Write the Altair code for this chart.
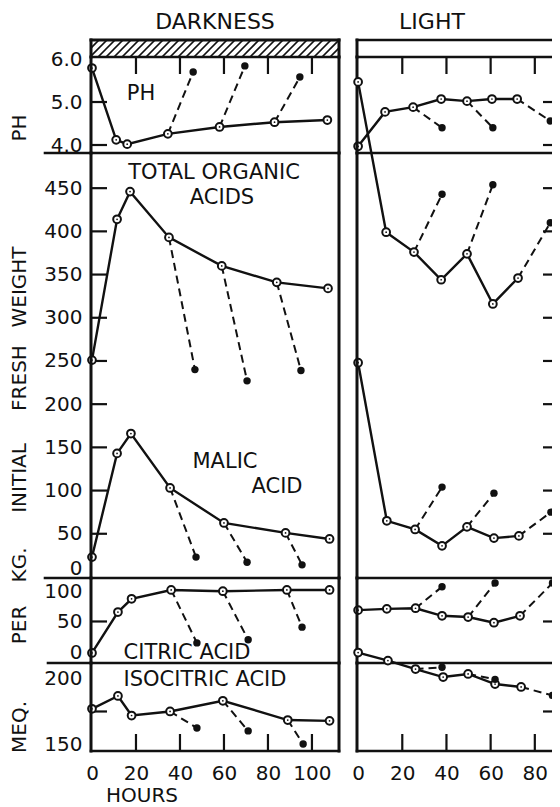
import altair as alt
import pandas as pd

FONT = "DejaVu Sans"
BLACK = "#111111"

# ---------------- DARKNESS (left) ----------------
d_ph_h = [0, 11, 16, 34.5, 58, 83, 107]
d_ph_v = [5.79, 4.12, 4.02, 4.26, 4.42, 4.53, 4.58]
d_ph_end_h = [46, 69.5, 94.5]
d_ph_end_v = [5.70, 5.84, 5.58]

d_tot_h = [0, 11.4, 17.3, 35, 59, 84, 107.3]
d_tot_v = [251, 414, 446, 393, 360, 341, 334]
d_tot_end_h = [46.8, 70.5, 95]
d_tot_end_v = [240, 227, 239]

d_mal_h = [0, 11.4, 17.7, 35.5, 60, 88, 108]
d_mal_v = [23, 143, 166, 103, 62.5, 51, 44]
d_mal_end_h = [47.3, 70.5, 95.5]
d_mal_end_v = [23, 17, 14]

d_cit_h = [0, 11.8, 18, 36, 59.5, 88.6, 108]
d_cit_v = [0, 65, 86, 100, 98, 100, 100]
d_cit_end_h = [47.7, 71, 95.5]
d_cit_end_v = [16, 21, 41]

d_iso_h = [0, 11.8, 18, 35.5, 59.5, 89, 108]
d_iso_v = [177, 186.6, 172, 175, 183, 168.6, 168]
d_iso_end_h = [47.7, 71, 96]
d_iso_end_v = [162.7, 160.5, 150.7]

d_from = [3, 4, 5]   # solid points where the dashed branches start

# ---------------- LIGHT (right) ----------------
l_ph_h = [0, 12.2, 24.9, 37.6, 49.3, 60.6, 72]
l_ph_v = [3.97, 4.77, 4.88, 5.07, 5.02, 5.07, 5.07]
l_ph_end_h = [38, 61, 87]
l_ph_end_v = [4.40, 4.40, 4.56]

l_tot_h = [0, 12.7, 25.3, 37.6, 49.3, 61, 72.4]
l_tot_v = [573, 399, 376, 344, 374, 316, 346]
l_tot_end_h = [38, 61, 87]
l_tot_end_v = [443, 454, 410]

l_mal_h = [0, 13, 25.8, 38, 49.3, 61.5, 72.8]
l_mal_v = [248, 65, 55, 36, 58, 45, 47.5]
l_mal_end_h = [38, 61.5, 87.3]
l_mal_end_v = [104, 97, 75]

l_cit_h = [0, 13, 26, 38, 49.8, 61.5, 73.3]
l_cit_v = [68, 70, 71, 59, 57, 48, 59]
l_cit_end_h = [38, 62, 88]
l_cit_end_v = [105, 111, 111]

l_iso_h = [0, 13.5, 26, 38.5, 49.8, 62, 73.8]
l_iso_v = [219, 213, 206.7, 200.7, 203, 195.5, 193.3]
l_iso_end_h = [38, 62, 88]
l_iso_end_v = [208, 199, 187]

l_from = [2, 4, 6]

# tick values / labels
ph_labels = [4, 5, 6]
ph_ticks = [4, 5]
org_labels = [0, 50, 100, 150, 200, 250, 300, 350, 400, 450]
org_ticks = [50, 100, 150, 200, 250, 300, 350, 400, 450]
cit_labels = [0, 50, 100]
cit_ticks = [50]
iso_labels = [150, 200]
iso_ticks = [175]
hour_labels_left = [0, 20, 40, 60, 80, 100]
hour_labels_right = [0, 20, 40, 60, 80]
hour_ticks_left = [20, 40, 60, 80, 100]
hour_ticks_right = [20, 40, 60, 80]

# ---------------- geometry ----------------
WL, WR = 248, 203
HH, HPH, HORG, HCIT, HISO = 17, 96, 425, 85, 88
PAD_L, PAD_T = 83, 32
SVG_W, SVG_H = 544, 800

xs_left = alt.Scale(domain=[-0.45, 112.3], nice=False, zero=False)
xs_right = alt.Scale(domain=[-0.5, 91.4], nice=False, zero=False)
ys_ph = alt.Scale(domain=[3.814, 6.047], nice=False, zero=False)
ys_org = alt.Scale(domain=[-1.2, 490.7], nice=False, zero=False)
ys_cit = alt.Scale(domain=[-15.9, 119], nice=False, zero=False)
ys_iso = alt.Scale(domain=[145.5, 211.2], nice=False, zero=False)

ONE = pd.DataFrame({"k": [0]})


def yaxis_left(values, fmt=None, label_offset=None):
    kw = dict(values=values, orient="left", ticks=False, tickSize=0, domain=False, grid=False,
              labelFont=FONT, labelFontSize=20, labelColor=BLACK, labelPadding=9,
              labelOverlap=False, labelFlush=False, title="")
    if fmt:
        kw["format"] = fmt
    if label_offset is not None:
        kw["labelOffset"] = label_offset
    return alt.Axis(**kw)


def xaxis_bottom(values):
    return alt.Axis(values=values, orient="bottom", ticks=False, tickSize=0, domain=False,
                    grid=False, labelFont=FONT, labelFontSize=20, labelColor=BLACK,
                    labelPadding=12, labelOverlap=False, labelFlush=False, title="")


def series_layers(h, v, frm, eh, ev, xs, ys, xaxis, yaxis):
    main = pd.DataFrame({"h": h, "v": v})
    rows = []
    for k, (i, a, b) in enumerate(zip(frm, eh, ev)):
        rows.append({"h": h[i], "v": v[i], "seg": k})
        rows.append({"h": a, "v": b, "seg": k})
    br = pd.DataFrame(rows)
    ends = pd.DataFrame({"h": eh, "v": ev})

    def enc(c):
        return c.encode(x=alt.X("h:Q", scale=xs, axis=xaxis),
                        y=alt.Y("v:Q", scale=ys, axis=yaxis))

    dashed = enc(alt.Chart(br).mark_line(color=BLACK, strokeWidth=2, strokeDash=[8, 5])).encode(detail="seg:N")
    solid = enc(alt.Chart(main).mark_line(color=BLACK, strokeWidth=2.4))
    opens = enc(alt.Chart(main).mark_point(shape="circle", filled=True, fill="white", stroke=BLACK,
                                           strokeWidth=2, size=60, opacity=1))
    dots = enc(alt.Chart(main).mark_point(shape="circle", filled=True, color=BLACK, size=3, opacity=1))
    fills = enc(alt.Chart(ends).mark_point(shape="circle", filled=True, color=BLACK, size=55, opacity=1))
    return [dashed, solid], [opens, dots, fills]


def rule(x, y, x2=None, y2=None, w=2.6):
    e = {"x": alt.value(x), "y": alt.value(y)}
    if x2 is not None:
        e["x2"] = alt.value(x2)
    if y2 is not None:
        e["y2"] = alt.value(y2)
    return alt.Chart(ONE).mark_rule(color=BLACK, strokeWidth=w, strokeCap="square").encode(**e)


def label(s, x, y, size=21, angle=0, align="center"):
    kw = dict(text=s, font=FONT, fontSize=size, color=BLACK, align=align, baseline="middle")
    if angle:
        kw["angle"] = angle
    return alt.Chart(ONE).mark_text(**kw).encode(x=alt.value(x), y=alt.value(y))


def yticks(values, ys, xc, length, axis):
    # horizontal tick marks placed through the panel's own y scale
    df = pd.DataFrame({"v": values})
    return alt.Chart(df).mark_tick(orient="horizontal", size=length, thickness=2.2,
                                   color=BLACK, opacity=1).encode(
        x=alt.value(xc), y=alt.Y("v:Q", scale=ys, axis=axis))


def xticks(values, xs, yc, length, axis):
    # vertical tick marks placed through the panel's own x scale
    df = pd.DataFrame({"h": values})
    return alt.Chart(df).mark_tick(orient="vertical", size=length, thickness=2.2,
                                   color=BLACK, opacity=1).encode(
        x=alt.X("h:Q", scale=xs, axis=axis), y=alt.value(yc))


def panel(series, xs, ys, W, H, xaxis, yaxis, ticks, decor):
    back, front = [], []
    for s in series:
        b, f = series_layers(*s, xs, ys, xaxis, yaxis)
        back += b
        front += f
    return alt.layer(*back, *ticks, *front, *decor).properties(width=W, height=H)


# ---------------- headers ----------------
hatch_start = list(range(-HH, WL + 8, 8))
hatch_df = pd.DataFrame({"x0": hatch_start, "x1": [s + HH for s in hatch_start],
                         "y0": [HH] * len(hatch_start), "y1": [0] * len(hatch_start)})
hatch = alt.Chart(hatch_df).mark_rule(color=BLACK, strokeWidth=1.7, clip=True).encode(
    x=alt.X("x0:Q", scale=None), x2="x1:Q", y=alt.Y("y0:Q", scale=None), y2="y1:Q")

head_left = alt.layer(
    hatch,
    rule(0, 0, x2=WL, w=3), rule(0, HH, x2=WL, w=2.6),
    rule(0, 0, y2=HH, w=3), rule(WL, 0, y2=HH, w=3),
    label("DARKNESS", WL / 2, -18, size=22),
).properties(width=WL, height=HH)

head_right = alt.layer(
    rule(0, 0, x2=WR, w=2.6), rule(0, HH, x2=WR, w=2.6), rule(0, 0, y2=HH, w=3),
    label("LIGHT", 75, -18, size=22),
).properties(width=WR, height=HH)

# ---------------- left column ----------------
ax_ph = yaxis_left(ph_labels, fmt=".1f")
ph_left = panel(
    [(d_ph_h, d_ph_v, d_from, d_ph_end_h, d_ph_end_v)], xs_left, ys_ph, WL, HPH,
    None, ax_ph,
    [yticks(ph_ticks, ys_ph, 8, 16, ax_ph), xticks(hour_ticks_left, xs_left, 8.5, 17, None)],
    [rule(0, 0, y2=HPH, w=3), rule(WL, 0, y2=HPH, w=3), rule(-46, HPH, x2=WL, w=2.6),
     label("PH", 50, 37, size=21), label("PH", -71, 71, size=20, angle=270)])

ax_org = yaxis_left(org_labels, label_offset={"condition": {"test": "datum.value == 0", "value": -8}, "value": 0})
org_left = panel(
    [(d_tot_h, d_tot_v, d_from, d_tot_end_h, d_tot_end_v),
     (d_mal_h, d_mal_v, d_from, d_mal_end_h, d_mal_end_v)], xs_left, ys_org, WL, HORG,
    None, ax_org,
    [yticks(org_ticks, ys_org, 8, 16, ax_org)],
    [rule(0, 0, y2=HORG, w=3), rule(WL, 0, y2=HORG, w=3), rule(-46, HORG, x2=WL, w=2.6),
     label("TOTAL ORGANIC", 123, 20), label("ACIDS", 131, 45),
     label("MALIC", 134, 309), label("ACID", 186, 334),
     label("WEIGHT", -71, 287 - 153, size=20, angle=270),
     label("FRESH", -71, 378 - 153, size=20, angle=270),
     label("INITIAL", -71, 478 - 153, size=20, angle=270),
     label("KG.", -71, 565 - 153, size=20, angle=270),
     label("PER", -71, 625 - 153, size=20, angle=270),
     label("MEQ.", -71, 727 - 153, size=20, angle=270)])

ax_cit = yaxis_left(cit_labels, label_offset={"condition": {"test": "datum.value == 100", "value": 2}, "value": 0})
cit_left = panel(
    [(d_cit_h, d_cit_v, d_from, d_cit_end_h, d_cit_end_v)], xs_left, ys_cit, WL, HCIT,
    None, ax_cit,
    [yticks(cit_ticks, ys_cit, 8, 16, ax_cit)],
    [rule(0, 0, y2=HCIT, w=3), rule(WL, 0, y2=HCIT, w=3), rule(-43, HCIT, x2=WL, w=2.6),
     label("CITRIC ACID", 96, 75)])

ax_iso = yaxis_left(iso_labels)
ax_hl = xaxis_bottom(hour_labels_left)
iso_left = panel(
    [(d_iso_h, d_iso_v, d_from, d_iso_end_h, d_iso_end_v)], xs_left, ys_iso, WL, HISO,
    ax_hl, ax_iso,
    [yticks(iso_ticks, ys_iso, 8, 16, ax_iso), xticks(hour_ticks_left, xs_left, HISO - 8.5, 17, ax_hl)],
    [rule(0, 0, y2=HISO, w=3), rule(WL, 0, y2=HISO, w=3), rule(0, HISO, x2=WL, w=2.6),
     label("ISOCITRIC ACID", 114, 17), label("HOURS", 51, 133, size=20)])

# ---------------- right column ----------------
# the original's right-hand ticks sit at its cropped edge; drawn just inside the visible page
RTC = WR - 12.5

ph_right = panel(
    [(l_ph_h, l_ph_v, l_from, l_ph_end_h, l_ph_end_v)], xs_right, ys_ph, WR, HPH,
    None, None,
    [xticks(hour_ticks_right, xs_right, 8.5, 17, None), yticks(ph_ticks, ys_ph, RTC, 9, None)],
    [rule(0, 0, y2=HPH, w=3), rule(0, HPH, x2=WR, w=2.6)])

org_right = panel(
    [(l_tot_h, l_tot_v, l_from, l_tot_end_h, l_tot_end_v),
     (l_mal_h, l_mal_v, l_from, l_mal_end_h, l_mal_end_v)], xs_right, ys_org, WR, HORG,
    None, None,
    [yticks(org_ticks, ys_org, RTC, 9, None)],
    [rule(0, 0, y2=HORG, w=3), rule(0, HORG, x2=WR, w=2.6)])

cit_right = panel(
    [(l_cit_h, l_cit_v, l_from, l_cit_end_h, l_cit_end_v)], xs_right, ys_cit, WR, HCIT,
    None, None,
    [yticks(cit_ticks, ys_cit, RTC, 9, None)],
    [rule(0, 0, y2=HCIT, w=3), rule(0, HCIT, x2=WR, w=2.6)])

ax_hr = xaxis_bottom(hour_labels_right)
iso_right = panel(
    [(l_iso_h, l_iso_v, l_from, l_iso_end_h, l_iso_end_v)], xs_right, ys_iso, WR, HISO,
    ax_hr, None,
    [xticks(hour_ticks_right, xs_right, HISO - 8.5, 17, ax_hr), yticks(iso_ticks, ys_iso, RTC, 9, None)],
    [rule(0, 0, y2=HISO, w=3), rule(0, HISO, x2=WR, w=2.6)])

chart = alt.concat(
    head_left, head_right,
    ph_left, ph_right,
    org_left, org_right,
    cit_left, cit_right,
    iso_left, iso_right,
    columns=2, spacing={"row": 0, "column": 18}, bounds="flush",
).properties(
    autosize=alt.AutoSizeParams(type="none"),
    padding={"left": PAD_L, "top": PAD_T, "right": SVG_W - PAD_L, "bottom": SVG_H - PAD_T},
    background="white",
).configure_view(stroke="transparent")

chart.save("out.html", embed_options={"renderer": "svg", "actions": False})
